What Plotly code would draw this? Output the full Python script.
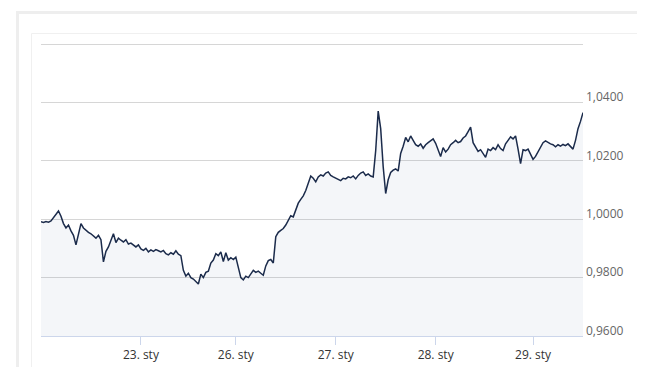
import plotly.graph_objects as go

# Exchange rate series (trading-time index)
rate = [
    0.9991, 0.9989, 0.9992, 0.9990, 0.9994, 1.0005, 1.0018, 1.0028, 1.0010, 0.9985,
    0.9970, 0.9980, 0.9960, 0.9945, 0.9912, 0.9948, 0.9985, 0.9970, 0.9962, 0.9955,
    0.9950, 0.9942, 0.9935, 0.9945, 0.9930, 0.9854, 0.9890, 0.9905, 0.9925, 0.9950,
    0.9920, 0.9935, 0.9928, 0.9922, 0.9930, 0.9915, 0.9918, 0.9910, 0.9905, 0.9912,
    0.9898, 0.9893, 0.9900, 0.9888, 0.9895, 0.9890, 0.9896, 0.9892, 0.9888, 0.9893,
    0.9882, 0.9878, 0.9885, 0.9880, 0.9892, 0.9880, 0.9875, 0.9825, 0.9805, 0.9815,
    0.9800, 0.9795, 0.9788, 0.9778, 0.9812, 0.9800, 0.9818, 0.9822, 0.9850, 0.9860,
    0.9882, 0.9875, 0.9888, 0.9855, 0.9885, 0.9860, 0.9868, 0.9862, 0.9870, 0.9835,
    0.9800, 0.9792, 0.9805, 0.9800, 0.9812, 0.9825, 0.9818, 0.9822, 0.9815, 0.9808,
    0.9840, 0.9858, 0.9862, 0.9850, 0.9940, 0.9955, 0.9962, 0.9968, 0.9980, 0.9995,
    1.0012, 1.0008, 1.0030, 1.0055, 1.0068, 1.0080, 1.0098, 1.0120, 1.0148, 1.0140,
    1.0128, 1.0145, 1.0152, 1.0148, 1.0158, 1.0162, 1.0150, 1.0145, 1.0140, 1.0136,
    1.0132, 1.0140, 1.0138, 1.0145, 1.0142, 1.0148, 1.0138, 1.0150, 1.0158, 1.0162,
    1.0150, 1.0155, 1.0148, 1.0145, 1.0235, 1.0370, 1.0310, 1.0180, 1.0088, 1.0135,
    1.0160, 1.0168, 1.0172, 1.0165, 1.0225, 1.0250, 1.0280, 1.0265, 1.0285, 1.0270,
    1.0255, 1.0250, 1.0258, 1.0243, 1.0255, 1.0262, 1.0268, 1.0275, 1.0260, 1.0240,
    1.0215, 1.0245, 1.0230, 1.0240, 1.0255, 1.0262, 1.0270, 1.0262, 1.0266, 1.0278,
    1.0285, 1.0300, 1.0315, 1.0262, 1.0248, 1.0232, 1.0238, 1.0225, 1.0212, 1.0240,
    1.0235, 1.0245, 1.0238, 1.0255, 1.0242, 1.0235, 1.0258, 1.0270, 1.0282, 1.0275,
    1.0285, 1.0240, 1.0190, 1.0238, 1.0235, 1.0240, 1.0222, 1.0205, 1.0215, 1.0230,
    1.0248, 1.0262, 1.0268, 1.0262, 1.0258, 1.0255, 1.0248, 1.0255, 1.0250, 1.0256,
    1.0252, 1.0258, 1.0248, 1.0240, 1.0270, 1.0310, 1.0335, 1.0365,
]
x_index = list(range(len(rate)))

# Day tick labels and their positions on the trading-time index
day_labels = ["23. sty", "26. sty", "27. sty", "28. sty", "29. sty"]
day_ticks = [40, 78, 118, 158, 197]

# Y-axis tick values and labels (comma decimal separator)
y_ticks = [0.96, 0.98, 1.00, 1.02, 1.04, 1.06]
y_labels = ["0,9600", "0,9800", "1,0000", "1,0200", "1,0400", ""]

# page has an 8px body margin: figure coordinates = page coordinates - 8
OFF = 8
W, H = 645 - OFF, 367 - OFF
L, R, T, B = 41 - OFF, 583 - OFF, 44 - OFF, 336 - OFF


def px_x(p):
    return (p - OFF - L) / (R - L)


def px_y(p):
    return (B - (p - OFF)) / (B - T)


fig = go.Figure()
fig.add_trace(go.Scatter(
    x=x_index, y=rate, mode="lines",
    line=dict(color="#1b2b4b", width=1.5),
    fill="tozeroy", fillcolor="rgba(40,70,130,0.05)",
    hoverinfo="skip", showlegend=False,
))

shapes = [
    # outer card border
    dict(type="rect", xref="paper", yref="paper",
         x0=px_x(17.5), x1=px_x(700), y0=px_y(12.5), y1=px_y(420),
         line=dict(color="#eeeeee", width=3), layer="below"),
    # inner box border
    dict(type="rect", xref="paper", yref="paper",
         x0=px_x(31.5), x1=px_x(638.5), y0=px_y(33.5), y1=px_y(420),
         line=dict(color="#f0f0f0", width=1), layer="below"),
    # top gridline
    dict(type="line", xref="paper", yref="y",
         x0=0, x1=1, y0=1.06, y1=1.06,
         line=dict(color="#d6d6d6", width=2)),
]

fig.update_layout(
    width=W, height=H,
    margin=dict(l=L, r=W - R, t=T, b=H - B, pad=0),
    paper_bgcolor="white", plot_bgcolor="white",
    font=dict(family="Open Sans, Arial, sans-serif", size=12, color="#666666"),
    shapes=shapes,
    xaxis=dict(
        range=[0, len(rate) - 1], automargin=False,
        tickvals=day_ticks, ticktext=day_labels,
        showgrid=False, zeroline=False,
        showline=True, linecolor="#ccd6eb", linewidth=1,
        ticks="outside", ticklen=8, tickcolor="#ccd6eb", tickwidth=1,
        tickfont=dict(size=12, color="#333333"),
        fixedrange=True,
    ),
    yaxis=dict(
        range=[0.96, 1.06], side="right", automargin=False,
        tickvals=y_ticks, ticktext=y_labels,
        showgrid=True, gridcolor="#d6d6d6", gridwidth=1,
        zeroline=False, showline=False, ticks="",
        ticklabelposition="outside top", ticklabelstandoff=2,
        ticklabelshift=3,
        tickfont=dict(size=12, color="#666666"),
        fixedrange=True,
    ),
)

fig.write_html("out.html")
